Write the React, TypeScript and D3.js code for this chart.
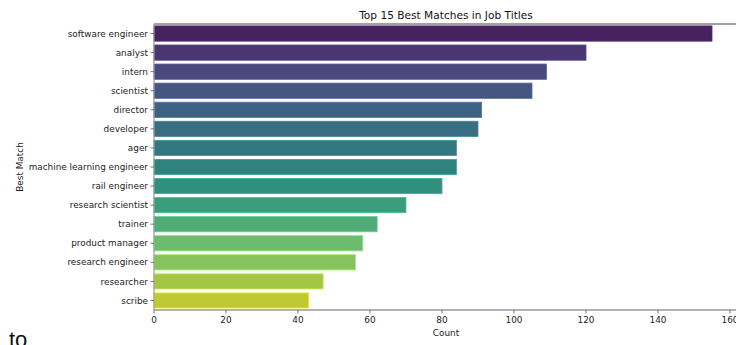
import React from "react";
import * as d3 from "d3";

const categories = [
  "software engineer", "analyst", "intern", "scientist", "director", "developer", "ager",
  "machine learning engineer", "rail engineer", "research scientist", "trainer",
  "product manager", "research engineer", "researcher", "scribe",
];
const counts = [155, 120, 109, 105, 91, 90, 84, 84, 80, 70, 62, 58, 56, 47, 43];
const xTicks = [0, 20, 40, 60, 80, 100, 120, 140, 160];
const title = "Top 15 Best Matches in Job Titles";

const W = 736, H = 345;
const left = 154, top = 24, bottom = 310, right = 736;
const font = "DejaVu Sans, sans-serif";

function color(i: number, n: number) {
  const c = d3.hsl(d3.interpolateViridis((i + 1) / (n + 1)));
  c.s *= 0.75;
  return c.formatHex();
}

export default function App() {
  const x = d3.scaleLinear().domain([0, 160]).range([left, left + 160 * 3.6]);
  const y = d3.scaleBand().domain(categories).range([top, bottom]).paddingInner(0.2).paddingOuter(0.1);
  return (
    <svg width={W} height={H} style={{ position: "absolute", left: 0, top: 0 }} fontFamily={font}>
      <rect width={W} height={H} fill="#fff" />
      {categories.map((c, i) => {
        const col = color(i, categories.length);
        return (
          <rect key={c} x={x(0)} y={y(c)!} width={x(counts[i]) - x(0)} height={y.bandwidth()}
            fill={col} stroke={d3.color(col)!.brighter(0.6).formatHex()} strokeWidth={0.8} />
        );
      })}
      <line x1={left} x2={right} y1={top} y2={top} stroke="#444" strokeWidth={1.2} />
      <line x1={left} x2={left} y1={top} y2={bottom} stroke="#999" strokeWidth={1.2} />
      <line x1={left} x2={right} y1={bottom} y2={bottom} stroke="#999" strokeWidth={1.5} />
      {categories.map((c) => {
        const cy = y(c)! + y.bandwidth() / 2;
        return (
          <g key={c}>
            <line x1={left - 3.5} x2={left} y1={cy} y2={cy} stroke="#555" strokeWidth={0.8} />
            <text x={left - 6} y={cy} dy="0.35em" textAnchor="end" fontSize={8.9} fill="#222">{c}</text>
          </g>
        );
      })}
      {xTicks.map((t) => (
        <g key={t}>
          <line x1={x(t)} x2={x(t)} y1={bottom} y2={bottom + 3.5} stroke="#555" strokeWidth={0.8} />
          <text x={x(t)} y={bottom + 10} dy="0.35em" textAnchor="middle" fontSize={8.9} fill="#222">{t}</text>
        </g>
      ))}
      <text x={446} y={333} dy="0.35em" textAnchor="middle" fontSize={8.9} fill="#222">Count</text>
      <text transform={`translate(20,${(top + bottom) / 2}) rotate(-90)`} dy="0.35em" textAnchor="middle" fontSize={8.9} fill="#222">Best Match</text>
      <text x={446} y={15} dy="0.35em" textAnchor="middle" fontSize={10.6} fill="#111">{title}</text>
      <text x={9} y={346.5} fontSize={22} fontFamily="Liberation Sans, Arial, sans-serif" fill="#111">to</text>
    </svg>
  );
}
